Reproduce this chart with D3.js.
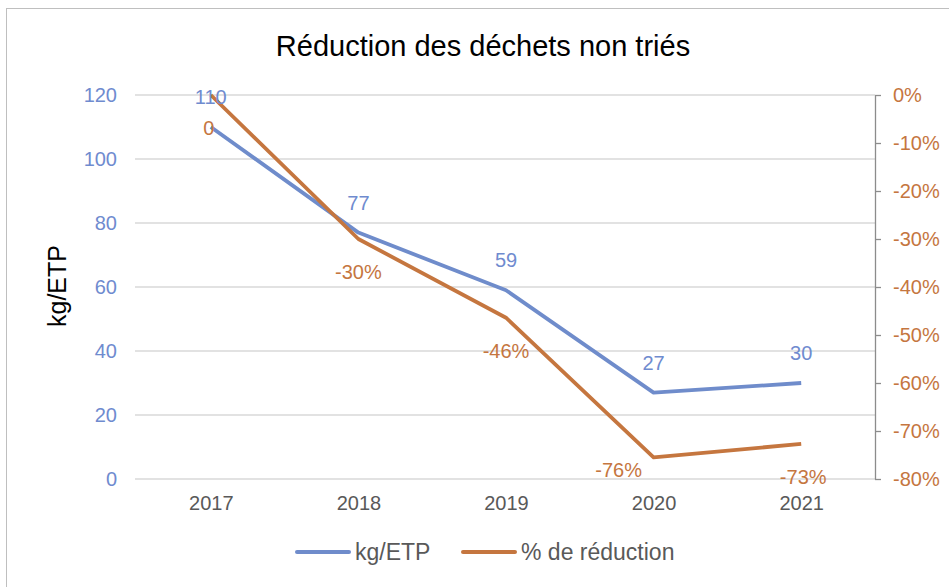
<!DOCTYPE html>
<html><head><meta charset="utf-8">
<script src="https://cdn.jsdelivr.net/npm/d3@7"></script>
<style>body{margin:0;background:#fff}svg{display:block;font-family:"Liberation Sans",Arial,sans-serif}</style>
</head><body><svg id="c" width="949" height="587"></svg>
<script>
const years = ["2017","2018","2019","2020","2021"];
const kgEtp = [110, 77, 59, 27, 30];
const reduction = [0, -0.30, -0.464, -0.755, -0.727];
const reductionLabels = ["0","-30%","-46%","-76%","-73%"];
const leftTicks = [0,20,40,60,80,100,120];
const rightTicks = [0,-0.1,-0.2,-0.3,-0.4,-0.5,-0.6,-0.7,-0.8];

const blue = "#6F8CCB", orange = "#C5763F", blueTxt = "#6F8BCF", orangeTxt = "#C5763F";
const svg = d3.select("#c");
const L = 137, R = 875, T = 95, B = 479;

svg.append("rect").attr("x",6.5).attr("y",8.5).attr("width",1000).attr("height",1000)
  .attr("fill","none").attr("stroke","#BFBFBF").attr("stroke-width",1);

const x = d3.scalePoint().domain(years).range([L, R]).padding(0.5);
const yL = d3.scaleLinear().domain([0,120]).range([B, T]);
const yR = d3.scaleLinear().domain([-0.8,0]).range([B, T]);

svg.append("g").selectAll("line").data(leftTicks).join("line")
  .attr("x1",L-2).attr("x2",R).attr("y1",d=>yL(d)).attr("y2",d=>yL(d))
  .attr("stroke","#D9D9D9").attr("stroke-width",1.5);

const gl = svg.append("g").attr("transform",`translate(${L},0)`)
  .call(d3.axisLeft(yL).tickValues(leftTicks).tickSize(0).tickPadding(20));
gl.select(".domain").remove();
gl.selectAll("text").attr("fill",blueTxt).style("font-size","20px").style("font-family","Liberation Sans, Arial, sans-serif");

const gr = svg.append("g").attr("transform",`translate(${R},0)`)
  .call(d3.axisRight(yR).tickValues(rightTicks).tickSize(6).tickPadding(12).tickFormat(d3.format(".0%")).tickSizeOuter(0));
gr.select(".domain").attr("stroke","#8C8C8C").attr("stroke-width",1.3);
gr.selectAll(".tick line").attr("stroke","#8C8C8C").attr("stroke-width",1.3);
gr.selectAll("text").attr("fill",orangeTxt).style("font-size","20px").style("font-family","Liberation Sans, Arial, sans-serif")
  .text(d=>d3.format(".0%")(d).replace("−","-"));

const gx = svg.append("g").attr("transform",`translate(0,${B})`)
  .call(d3.axisBottom(x).tickSize(0).tickPadding(17));
gx.select(".domain").remove();
gx.selectAll("text").attr("fill","#595959").style("font-size","20px").style("font-family","Liberation Sans, Arial, sans-serif");

const lineL = d3.line().x((d,i)=>x(years[i])).y(d=>yL(d));
const lineR = d3.line().x((d,i)=>x(years[i])).y(d=>yR(d));
svg.append("path").attr("d",lineL(kgEtp)).attr("fill","none").attr("stroke",blue).attr("stroke-width",3.8).attr("stroke-linejoin","round");
svg.append("path").attr("d",lineR(reduction)).attr("fill","none").attr("stroke",orange).attr("stroke-width",3.8).attr("stroke-linejoin","round");

svg.append("g").selectAll("text").data(kgEtp).join("text")
  .attr("x",(d,i)=>x(years[i])).attr("y",d=>yL(d)-23)
  .attr("text-anchor","middle").attr("fill",blueTxt).style("font-size","20px").text(d=>d);
const dxAdj = [-2,0,0,-35,2];
const dyAdj = [0,0,0,-7,0];
svg.append("g").selectAll("text").data(reduction).join("text")
  .attr("x",(d,i)=>x(years[i])+dxAdj[i]).attr("y",(d,i)=>Math.min(yR(d)+40, B+5)+dyAdj[i])
  .attr("text-anchor","middle").attr("fill",orangeTxt).style("font-size","20px").text((d,i)=>reductionLabels[i]);

svg.append("text").attr("x",483).attr("y",56).attr("text-anchor","middle")
  .attr("fill","#000").style("font-size","29px").text("Réduction des déchets non triés");

svg.append("text").attr("transform","translate(66,286) rotate(-90)").attr("text-anchor","middle")
  .attr("fill","#000").style("font-size","25px").text("kg/ETP");

const leg = [{t:"kg/ETP",c:blue,x:297},{t:"% de réduction",c:orange,x:463}];
const lg = svg.append("g").selectAll("g").data(leg).join("g").attr("transform",d=>`translate(${d.x},552)`);
lg.append("line").attr("x1",0).attr("x2",52).attr("stroke",d=>d.c).attr("stroke-width",4).attr("stroke-linecap","round");
lg.append("text").attr("x",58).attr("y",8).attr("fill","#595959").style("font-size","23px").text(d=>d.t);
</script></body></html>
